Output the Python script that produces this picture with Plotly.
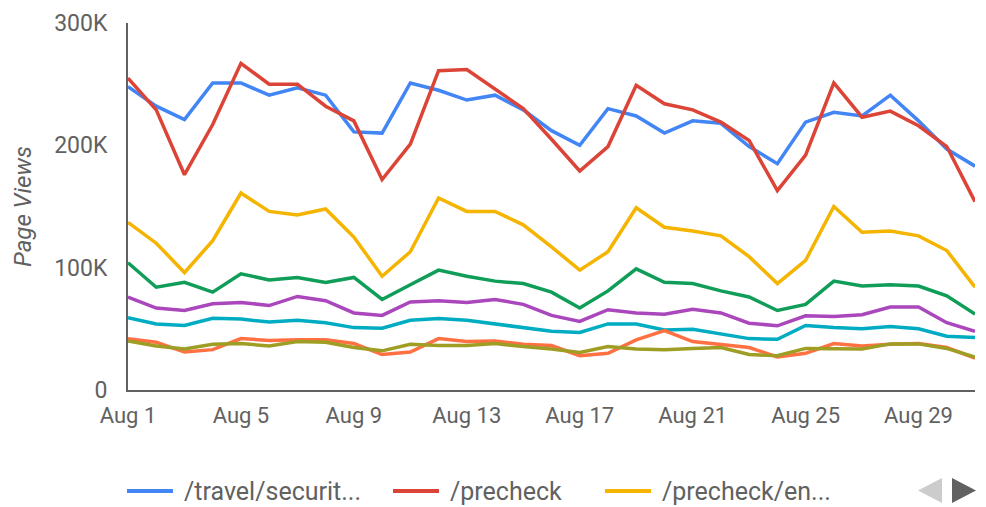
import pandas as pd
import plotly.graph_objects as go

# ---------------- data ----------------
dates = pd.date_range("2019-08-01", "2019-08-31", freq="D")

series_names = ["/travel/securit...", "/precheck", "/precheck/en...",
                "page 4", "page 5", "page 6", "page 7", "page 8"]

travel_security = [248, 232, 221, 251, 251, 241, 247, 241, 211, 210, 251, 245, 237, 241, 229, 212,
                   200, 230, 224, 210, 220, 218, 199, 185, 219, 227, 224, 241, 220, 197, 183]
precheck = [255, 229, 176, 217, 267, 250, 250, 232, 220, 172, 201, 261, 262, 246, 230, 205,
            179, 199, 249, 234, 229, 219, 204, 163, 192, 251, 223, 228, 216, 199, 154]
precheck_en = [137, 120, 96, 122, 161, 146, 143, 148, 125, 93, 113, 157, 146, 146, 135, 117,
               98, 113, 149, 133, 130, 126, 109, 87, 106, 150, 129, 130, 126, 114, 84]
page4 = [104, 84, 88, 80, 95, 90, 92, 88, 92, 74, 86, 98, 93, 89, 87, 80,
         67, 81, 99, 88, 87, 81, 76, 65, 70, 89, 85, 86, 85, 77, 62]
page5 = [76, 67, 65, 70.5, 71.6, 69, 76.5, 73, 63, 61, 72, 73, 71.6, 74, 70, 61,
         56, 65.6, 63, 62, 66, 63, 54.6, 52.5, 60.7, 60, 61.5, 67.8, 67.8, 55, 48]
page6 = [59, 54, 52.7, 58.7, 58, 55.5, 57, 55, 51, 50.5, 57, 58.5, 57, 54, 51, 48,
         47, 54, 54, 49, 49.7, 45.6, 42, 41.5, 52.7, 51, 50, 52, 50, 44, 43]
page7 = [42, 39, 31, 33, 42, 40.5, 41, 41, 38, 29, 31, 42, 39.6, 40, 37.4, 36.3,
         28, 30, 41, 48.6, 39.6, 37.4, 34.7, 27, 30, 38, 36, 37.4, 38, 34.7, 26]
page8 = [40, 36, 33.6, 37.4, 38, 36, 39.6, 39, 34.7, 32, 37.4, 36.3, 36.3, 38, 35.5, 33.6,
         30.6, 35.5, 33.6, 33, 34, 34.7, 29, 28, 34, 33.6, 33.6, 37.7, 37.7, 34, 27]

all_series = [travel_security, precheck, precheck_en, page4, page5, page6, page7, page8]
unit = 1000  # values above are in thousands of page views

y_tickvals = [0, 100000, 200000, 300000]
y_ticktext = ["0", "100K", "200K", "300K"]
legend_shown = 3

# ---------------- style ----------------
colors = ["#4285F4", "#DB4437", "#F4B400", "#0F9D58", "#AB47BC", "#00ACC1", "#FF7043", "#9E9D24"]
font_family = "Roboto, Arial, sans-serif"
text_color = "#616161"
W, H = 986, 507
ml, mr, mt, mb = 128, 11, 23, 117
pw, ph = W - ml - mr, H - mt - mb

fig = go.Figure()
for name, vals, col in zip(series_names, all_series, colors):
    fig.add_trace(go.Scatter(
        x=dates, y=[v * unit for v in vals], name=name, mode="lines",
        line=dict(color=col, width=3.5), showlegend=False,
    ))


def px_x(px):
    return (px - ml) / pw


def px_y(py):
    return (H - mb - py) / ph


shapes, annotations = [], []
# custom legend row (first three series, paginated)
leg_y = 491
leg_x = [127, 393, 605]
for i in range(legend_shown):
    x0 = leg_x[i]
    shapes.append(dict(type="line", xref="paper", yref="paper",
                       x0=px_x(x0), x1=px_x(x0 + 46), y0=px_y(leg_y), y1=px_y(leg_y),
                       line=dict(color=colors[i], width=4)))
    annotations.append(dict(xref="paper", yref="paper", x=px_x(x0 + 55), y=px_y(leg_y),
                            text=series_names[i], showarrow=False, xanchor="left",
                            yanchor="middle", font=dict(size=25, color=text_color,
                                                         family=font_family)))
# pagination arrows
lx0, lx1, ty0, ty1 = 918, 942, 478, 503
shapes.append(dict(type="path", xref="paper", yref="paper",
                   path=f"M {px_x(lx1)} {px_y(ty0)} L {px_x(lx1)} {px_y(ty1)} "
                        f"L {px_x(lx0)} {px_y((ty0 + ty1) / 2)} Z",
                   fillcolor="#CCCCCC", line=dict(width=0)))
rx0, rx1 = 952, 976
shapes.append(dict(type="path", xref="paper", yref="paper",
                   path=f"M {px_x(rx0)} {px_y(ty0)} L {px_x(rx0)} {px_y(ty1)} "
                        f"L {px_x(rx1)} {px_y((ty0 + ty1) / 2)} Z",
                   fillcolor="#616161", line=dict(width=0)))

fig.update_layout(
    width=W, height=H,
    margin=dict(l=ml, r=mr, t=mt, b=mb),
    paper_bgcolor="white", plot_bgcolor="white",
    font=dict(family=font_family, size=22, color=text_color),
    showlegend=False,
    shapes=shapes, annotations=annotations,
    xaxis=dict(
        range=[dates[0], dates[-1]],
        tickmode="linear", tick0=dates[0], dtick=4 * 86400000,
        tickformat="%b %-d", showgrid=False, zeroline=False,
        showline=True, linecolor="#616161", linewidth=2,
        ticks="", tickfont=dict(size=22, color=text_color),
        ticklabelstandoff=5,
    ),
    yaxis=dict(
        range=[0, 300000], tickvals=y_tickvals, ticktext=y_ticktext,
        showgrid=False, zeroline=False, showline=True, linecolor="#616161", linewidth=2,
        ticks="", tickfont=dict(size=23, color=text_color), ticklabelstandoff=14,
        title=dict(text="<i>Page Views</i>", font=dict(size=24, color=text_color), standoff=16),
    ),
)

fig.write_html("out.html", config={"displayModeBar": False},
               post_script="document.body.style.margin='0';")
